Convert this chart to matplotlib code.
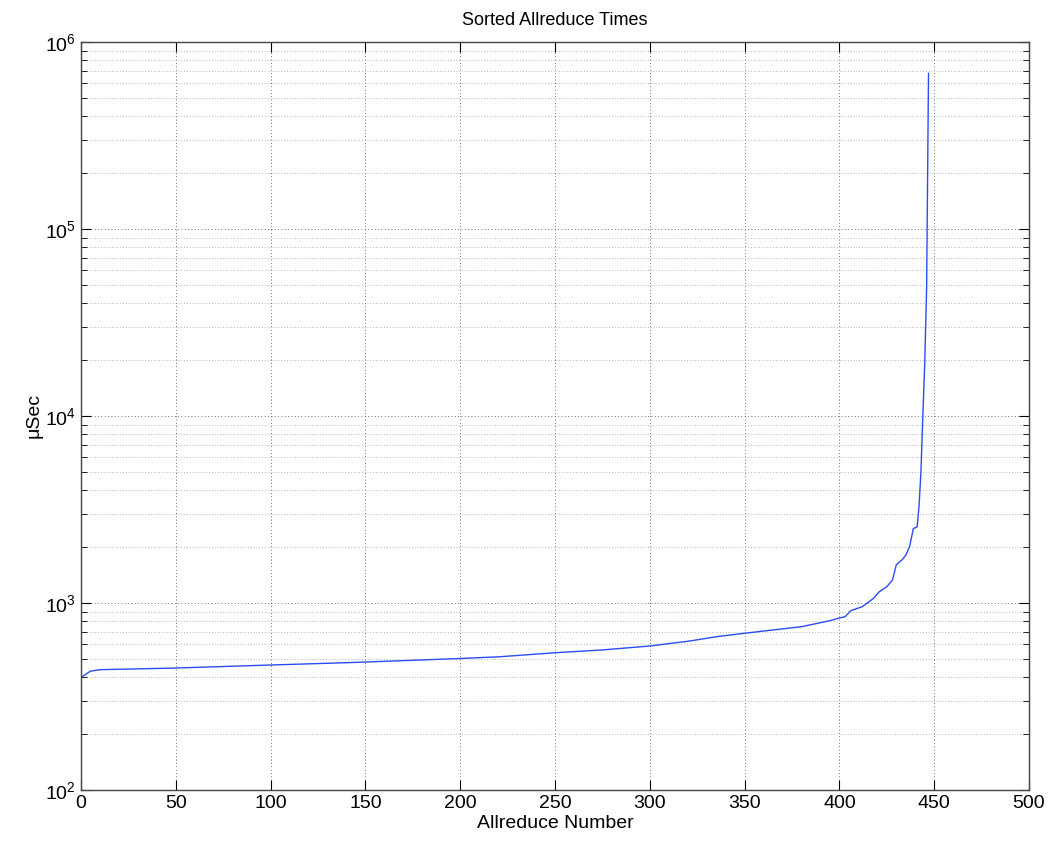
import matplotlib
matplotlib.use("Agg")
import matplotlib.pyplot as plt
from matplotlib.ticker import LogLocator, FixedLocator, NullFormatter

# sorted allreduce times (index, microseconds)
idx = [0, 5, 10, 50, 100, 147, 200, 221, 250, 275, 300, 320, 335, 350, 380,
       395, 400, 403, 406, 412, 418, 421, 425, 428, 430, 433, 435, 437, 439,
       441, 442, 443, 444, 445, 446, 447]
usec = [400, 432, 440, 449, 466, 482, 505, 516, 542, 561, 589, 624, 660, 689,
        747, 804, 831, 845, 910, 955, 1059, 1148, 1222, 1327, 1600, 1700,
        1800, 2000, 2500, 2550, 3300, 5000, 10000, 19000, 48000, 680000]

xticks = [0, 50, 100, 150, 200, 250, 300, 350, 400, 450, 500]

plt.rcParams['font.family'] = ['Liberation Sans', 'DejaVu Sans']

fig = plt.figure(figsize=(10.52, 8.48), dpi=100)
ax = fig.add_axes([81 / 1052, 1 - 790 / 848, 948 / 1052, 748 / 848])

ax.plot(idx, usec, color='#2a4cf5', lw=1.0)

ax.set_yscale('log')
ax.set_xlim(0, 500)
ax.set_ylim(1e2, 1e6)
ax.xaxis.set_major_locator(FixedLocator(xticks))
ax.yaxis.set_major_locator(LogLocator(base=10, numticks=10))
ax.yaxis.set_minor_locator(LogLocator(base=10, subs=range(2, 10), numticks=20))
ax.yaxis.set_minor_formatter(NullFormatter())

ax.grid(True, which='major', color='#444444', linestyle=(0, (1, 3)), lw=0.6)
ax.grid(True, which='minor', axis='y', color='#777777', linestyle=(0, (1, 3)), lw=0.5)

ax.tick_params(which='both', direction='in', top=True, right=True,
               labelsize=14, colors='black')
ax.tick_params(which='major', length=7, width=0.8)
ax.tick_params(which='minor', length=4, width=0.6)
for s in ax.spines.values():
    s.set_color('#444444')
    s.set_linewidth(1.0)

ax.set_title('Sorted Allreduce Times', fontsize=13, pad=12)
ax.set_xlabel('Allreduce Number', fontsize=14, labelpad=2)
ax.set_ylabel('\u03bcSec', fontsize=14, labelpad=2)

fig.savefig('out.png', dpi=100, facecolor='white')
